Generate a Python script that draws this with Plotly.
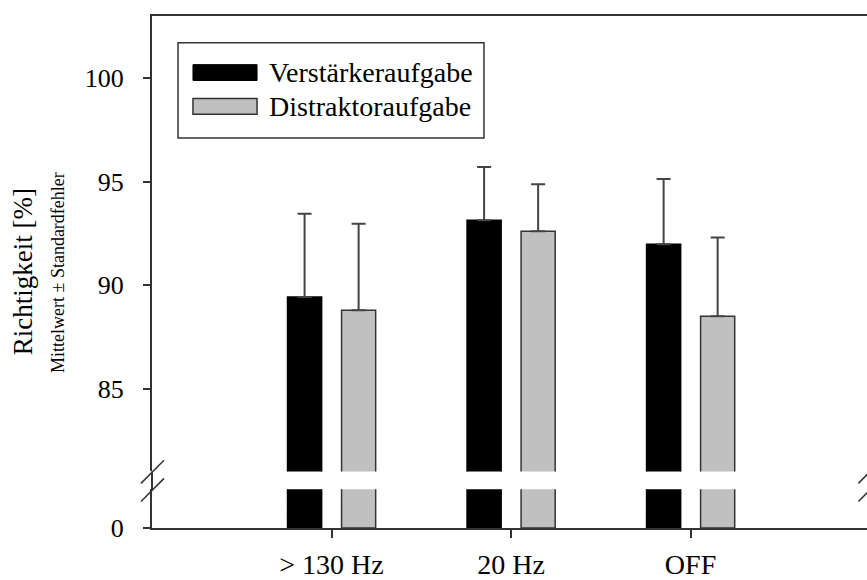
import plotly.graph_objects as go

# Richtigkeit (%) per Stimulationsbedingung, Mittelwert + Standardfehler
categories = ["> 130 Hz", "20 Hz", "OFF"]
verstaerker_mean = [89.43, 93.13, 91.98]
verstaerker_se = [4.02, 2.57, 3.15]
distraktor_mean = [88.79, 92.60, 88.49]
distraktor_se = [4.18, 2.27, 3.81]
y_ticks_upper = [85, 90, 95, 100]
y_ticks_lower = [0]

FONT = "Liberation Serif, Times New Roman, serif"
AX = "#333333"
GREY = "#c0c0c0"

fig = go.Figure()

series = [
    ("Verstärkeraufgabe", verstaerker_mean, verstaerker_se, "black", "black", -0.245),
    ("Distraktoraufgabe", distraktor_mean, distraktor_se, GREY, "#333333", 0.056),
]

for name, mean, se, fill, edge, off in series:
    # upper segment of the broken axis
    fig.add_trace(go.Bar(
        x=categories, y=mean, name=name, xaxis="x2", yaxis="y",
        width=0.19, offset=off,
        marker=dict(color=fill, line=dict(color=edge, width=1.5)),
        error_y=dict(type="data", array=se, arrayminus=[0] * len(se),
                     symmetric=False, color="#444444", thickness=2, width=7),
        showlegend=False))
    # lower segment (0 .. break)
    fig.add_trace(go.Bar(
        x=categories, y=mean, name=name, xaxis="x", yaxis="y2",
        width=0.19, offset=off,
        marker=dict(color=fill, line=dict(color=edge, width=1.5)),
        showlegend=False))

lo_top = 0.0756
up_bot = 0.1105

shapes = [
    # axis line through the break
    dict(type="line", xref="paper", yref="paper", x0=0, x1=0, y0=lo_top, y1=up_bot,
         line=dict(color=AX, width=2)),
    # break marks left
    dict(type="line", xref="paper", yref="paper", x0=-0.0154, x1=0.0168, y0=0.0872, y1=0.1325,
         line=dict(color=AX, width=1.5)),
    dict(type="line", xref="paper", yref="paper", x0=-0.0154, x1=0.0168, y0=0.0517, y1=0.0969,
         line=dict(color=AX, width=1.5)),
    # break marks right
    dict(type="line", xref="paper", yref="paper", x0=0.988, x1=1.02, y0=0.0872, y1=0.1325,
         line=dict(color=AX, width=1.5)),
    dict(type="line", xref="paper", yref="paper", x0=0.988, x1=1.02, y0=0.0517, y1=0.0969,
         line=dict(color=AX, width=1.5)),
    # legend box and swatches
    dict(type="rect", xref="paper", yref="paper", x0=0.0364, x1=0.4643, y0=0.7616, y1=0.9477,
         line=dict(color=AX, width=1.5), fillcolor="white"),
    dict(type="rect", xref="paper", yref="paper", x0=0.0573, x1=0.1469, y0=0.874, y1=0.905,
         line=dict(color="black", width=1), fillcolor="black"),
    dict(type="rect", xref="paper", yref="paper", x0=0.0573, x1=0.1469, y0=0.808, y1=0.839,
         line=dict(color=AX, width=1.5), fillcolor=GREY),
]

annotations = [
    dict(text="Verstärkeraufgabe", xref="paper", yref="paper", x=0.161, y=0.8895,
         xanchor="left", yanchor="middle", showarrow=False,
         font=dict(family=FONT, size=28, color="black")),
    dict(text="Distraktoraufgabe", xref="paper", yref="paper", x=0.161, y=0.8236,
         xanchor="left", yanchor="middle", showarrow=False,
         font=dict(family=FONT, size=28, color="black")),
    dict(text="Richtigkeit [%]", xref="paper", yref="paper", x=-0.180, y=0.5,
         xanchor="center", yanchor="middle", textangle=-90, showarrow=False,
         font=dict(family=FONT, size=27, color="black")),
    dict(text="Mittelwert ± Standardfehler", xref="paper", yref="paper", x=-0.1315, y=0.5,
         xanchor="center", yanchor="middle", textangle=-90, showarrow=False,
         font=dict(family=FONT, size=18, color="black")),
]

fig.update_layout(
    width=867, height=580,
    margin=dict(l=152, r=0, t=16, b=48),
    paper_bgcolor="white", plot_bgcolor="white",
    barmode="overlay",
    showlegend=False,
    shapes=shapes, annotations=annotations,
    xaxis=dict(type="category", range=[-1, 2.983], anchor="y2", domain=[0, 1],
               showline=True, linecolor=AX, linewidth=2, showgrid=False, zeroline=False,
               ticks="outside", ticklen=8, tickwidth=1.5, tickcolor=AX,
               ticklabelstandoff=2,
               tickfont=dict(family=FONT, size=28, color="black")),
    xaxis2=dict(type="category", matches="x", anchor="y", side="top",
                showline=True, linecolor=AX, linewidth=2, showgrid=False, zeroline=False,
                ticks="", showticklabels=False),
    yaxis=dict(domain=[up_bot, 1], range=[81, 103], anchor="x2",
               tickvals=y_ticks_upper, showline=True, linecolor=AX, linewidth=2,
               showgrid=False, zeroline=False,
               ticks="outside", ticklen=7, tickwidth=1.5, tickcolor=AX,
               ticklabelstandoff=14,
               tickfont=dict(family=FONT, size=26, color="black")),
    yaxis2=dict(domain=[0, lo_top], range=[0, 5], anchor="x",
                tickvals=y_ticks_lower, showline=True, linecolor=AX, linewidth=2,
                showgrid=False, zeroline=False,
                ticks="outside", ticklen=7, tickwidth=1.5, tickcolor=AX,
                ticklabelstandoff=14,
                tickfont=dict(family=FONT, size=26, color="black")),
)

# page without body margin so the 867x580 figure fills the window exactly
fig.write_html("out.html", config={"displayModeBar": False},
               post_script="document.body.style.margin='0';")
